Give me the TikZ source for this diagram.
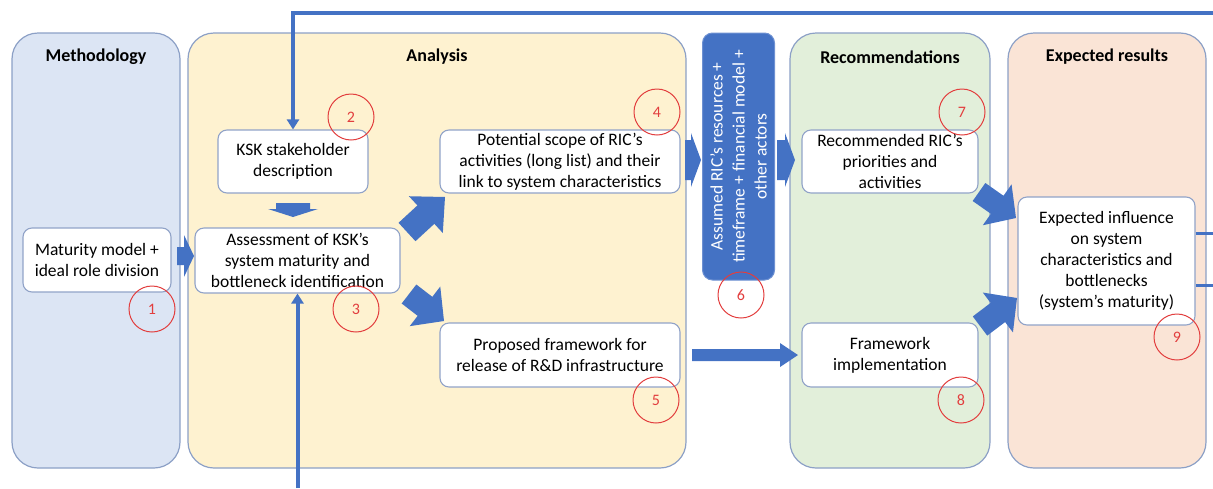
\documentclass[tikz,border=0pt]{standalone}
\usepackage{fontspec}
\setmainfont{Carlito}
\usetikzlibrary{calc,arrows.meta}
\definecolor{methfill}{RGB}{220,229,244}
\definecolor{anafill}{RGB}{254,242,208}
\definecolor{recfill}{RGB}{226,239,218}
\definecolor{resfill}{RGB}{250,228,214}
\definecolor{panelline}{RGB}{140,160,198}
\definecolor{boxline}{RGB}{145,163,200}
\definecolor{arrowblue}{RGB}{68,114,196}
\definecolor{bluebord}{RGB}{110,145,210}
\definecolor{numred}{RGB}{226,62,62}
% block arrow: start, end, shaft half width, head half width, head length
\newcommand\barrow[5]{%
  \path (#1) coordinate (ba-s) (#2) coordinate (ba-e);
  \path ($(ba-e)!#5!(ba-s)$) coordinate (ba-c);
  \fill[arrowblue] ($(ba-s)!#3!90:(ba-e)$) -- ($(ba-c)!#3!90:(ba-e)$) -- ($(ba-c)!#4!90:(ba-e)$)
    -- (ba-e) -- ($(ba-c)!#4!-90:(ba-e)$) -- ($(ba-c)!#3!-90:(ba-e)$) -- ($(ba-s)!#3!-90:(ba-e)$) -- cycle;}
\begin{document}
\begin{tikzpicture}[x=1pt,y=-1pt,
  panel/.style={draw=panelline,line width=1.2pt,rounded corners=26pt,inner sep=0pt,minimum height=435pt},
  paneltitle/.style={font=\fontsize{18}{21}\selectfont\bfseries},
  wbox/.style={draw=boxline,line width=1.1pt,fill=white,rounded corners=9pt,align=center,inner sep=2pt,font=\fontsize{17.5}{21}\selectfont},
  bluebox/.style={draw=bluebord,line width=1pt,fill=arrowblue,rounded corners=10pt,align=center,text=white,font=\fontsize{17.5}{22}\selectfont,rotate=90,inner sep=0pt},
  num/.style={circle,draw=numred,line width=1pt,minimum size=46pt,inner sep=0pt,text=numred,font=\fontsize{16}{18}\selectfont},
  fbline/.style={draw=arrowblue,line width=4pt},
]
\useasboundingbox (0,0) rectangle (1213,488);
% panels
\node[panel,fill=methfill,minimum width=168pt] (p1) at (96,250.5) {};
\node[panel,fill=anafill,minimum width=498pt] (p2) at (437,250.5) {};
\node[panel,fill=recfill,minimum width=200pt] (p3) at (890,250.5) {};
\node[panel,fill=resfill,minimum width=198pt] (p4) at (1107,250.5) {};
\node[paneltitle] (t1) at (96,57) {Methodology};
\node[paneltitle] (t2) at (437,57) {Analysis};
\node[paneltitle] (t3) at (890,57) {Recommendations};
\node[paneltitle] (t4) at (1107,57) {Expected results};
% boxes
\node[wbox,minimum width=148pt,minimum height=64pt] (b1) at (97,260) {Maturity model +\\ideal role division};
\node[wbox,minimum width=150pt,minimum height=63pt] (b2) at (293,161.5) {KSK stakeholder\\description};
\node[wbox,minimum width=205pt,minimum height=65pt] (b3) at (297.5,260.5) {Assessment of KSK’s\\system maturity and\\bottleneck identification};
\node[wbox,minimum width=240pt,minimum height=63pt] (b4) at (560,161.5) {Potential scope of RIC’s\\activities (long list) and their\\link to system characteristics};
\node[wbox,minimum width=240pt,minimum height=64pt] (b5) at (560,355) {Proposed framework for\\release of R\&D infrastructure};
\node[bluebox,minimum width=247pt,minimum height=72pt] (b6) at (738.5,156.5) {Assumed RIC’s resources +\\timeframe + financial model +\\other actors};
\node[wbox,minimum width=176pt,minimum height=63pt] (b7) at (890,161.5) {Recommended RIC’s\\priorities and\\activities};
\node[wbox,minimum width=176pt,minimum height=64pt] (b8) at (890,355) {Framework\\implementation};
\node[wbox,minimum width=177pt,minimum height=128pt] (b9) at (1106.5,261) {Expected influence\\on system\\characteristics and\\bottlenecks\\(system’s maturity)};
% number circles
\node[num] (c1) at (152,309) {1};
\node[num] (c2) at (351,117) {2};
\node[num] (c3) at (356,309) {3};
\node[num] (c4) at (657,112) {4};
\node[num] (c5) at (656,400) {5};
\node[num] (c6) at (741,295) {6};
\node[num] (c7) at (962,112) {7};
\node[num] (c8) at (961,400) {8};
\node[num] (c9) at (1177,337) {9};
% block arrows
\coordinate (a1s) at (177,256); \coordinate (a1e) at (194,256);
\barrow{a1s}{a1e}{9pt}{21pt}{10pt}
\coordinate (a2s) at (b2.south |- 0,203); \coordinate (a2e) at (b2.south |- 0,217);
\barrow{a2s}{a2e}{17pt}{25pt}{8pt}
\coordinate (a3s) at (407,232); \coordinate (a3e) at (445,197);
\barrow{a3s}{a3e}{12.5pt}{25pt}{26pt}
\coordinate (a4s) at (409,294); \coordinate (a4e) at (444,321);
\barrow{a4s}{a4e}{12pt}{25pt}{24pt}
\coordinate (a5s) at (685,160); \coordinate (a5e) at (701,160);
\barrow{a5s}{a5e}{20pt}{27pt}{10pt}
\coordinate (a6s) at (777,160); \coordinate (a6e) at (795,160);
\barrow{a6s}{a6e}{20pt}{27pt}{10pt}
\coordinate (a7s) at (692,355); \coordinate (a7e) at (798,355);
\barrow{a7s}{a7e}{6pt}{12pt}{18pt}
\coordinate (a8s) at (979,192); \coordinate (a8e) at (1016,218);
\barrow{a8s}{a8e}{11pt}{25pt}{23pt}
\coordinate (a9s) at (980,326); \coordinate (a9e) at (1017,298);
\barrow{a9s}{a9e}{12pt}{25pt}{24pt}
% feedback lines
\coordinate (topR) at (1213,13);
\coordinate (topL) at (b2.north |- topR);
\draw[fbline,-{Triangle[length=10pt,width=12pt]}] (topR) -- (topL) -- (b2.north);
\coordinate (botB) at (b3.south |- 0,488);
\draw[fbline,-{Triangle[length=10pt,width=12pt]}] (botB) -- (b3.south);
\coordinate (r1) at (1213,233);
\coordinate (r2) at (1213,285);
\draw[fbline,line width=3pt] (b9.east |- r1) -- (r1);
\draw[fbline,line width=3pt] (b9.east |- r2) -- (r2);
\end{tikzpicture}
\end{document}
